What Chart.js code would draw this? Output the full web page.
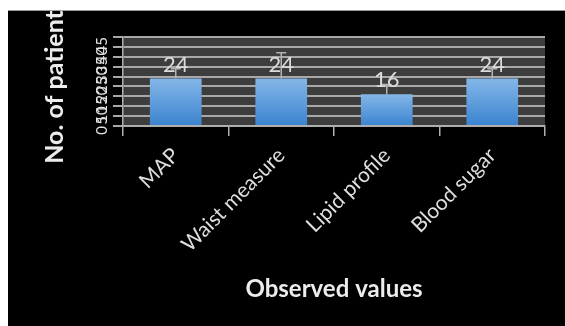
<!DOCTYPE html>
<html>
<head>
<meta charset="utf-8">
<title>Observed values</title>
<script src="https://cdn.jsdelivr.net/npm/chart.js@4.4.1/dist/chart.umd.min.js"></script>
<style>
  body { margin: 0; background: #fff; }
  #wrap { position: absolute; left: 8px; top: 10px; width: 557px; height: 315px; background: #000; border-top: 1px solid #9a9a9a; }
</style>
</head>
<body>
<div id="wrap"><canvas id="chart1" width="557" height="315"></canvas></div>
<script>
  // data
  var categories = ['MAP', 'Waist measurement', 'Lipid profile', 'Blood sugar'];
  var patients   = [24, 24, 16, 24];
  var errPlus    = [5, 13, 5, 5];

  var FONT = 'Lato, "Open Sans", sans-serif';

  // dark plot area behind the grid
  var plotBg = {
    id: 'plotBg',
    beforeDraw: function(chart){
      var a = chart.chartArea, ctx = chart.ctx;
      ctx.save();
      ctx.fillStyle = '#3d3d3d';
      ctx.fillRect(a.left, a.top, a.right - a.left, a.bottom - a.top);
      ctx.restore();
    }
  };

  // error whiskers + value labels above the bars
  var barExtras = {
    id: 'barExtras',
    afterDatasetsDraw: function(chart){
      var ctx = chart.ctx, y = chart.scales.y;
      var meta = chart.getDatasetMeta(0);
      ctx.save();
      meta.data.forEach(function(bar, i){
        var top = y.getPixelForValue(patients[i] + errPlus[i]);
        ctx.strokeStyle = '#b4b4b4';
        ctx.lineWidth = 1.5;
        ctx.beginPath();
        ctx.moveTo(bar.x, bar.y);
        ctx.lineTo(bar.x, top);
        ctx.moveTo(bar.x - 5, top);
        ctx.lineTo(bar.x + 5, top);
        ctx.stroke();

        ctx.fillStyle = '#dcdcdc';
        ctx.font = '22px ' + FONT;
        ctx.textAlign = 'center';
        ctx.textBaseline = 'bottom';
        ctx.fillText(String(patients[i]), bar.x, bar.y - 3);
      });
      ctx.restore();
    }
  };

  function barFill(c){
    var chart = c.chart;
    if(!chart.chartArea) return '#5b9bd5';
    var y = chart.scales.y;
    var g = chart.ctx.createLinearGradient(0, y.getPixelForValue(c.raw), 0, y.getPixelForValue(0));
    g.addColorStop(0, '#84b7e8');
    g.addColorStop(1, '#3a83cf');
    return g;
  }

  new Chart(document.getElementById('chart1').getContext('2d'), {
    type: 'bar',
    data: {
      labels: categories,
      datasets: [{
        label: 'No. of patients',
        data: patients,
        backgroundColor: barFill,
        borderWidth: 0,
        categoryPercentage: 1,
        barPercentage: 0.49
      }]
    },
    options: {
      responsive: false,
      animation: false,
      layout: { padding: { left: 28, top: 26, right: 20, bottom: 18 } },
      plugins: { legend: { display: false }, tooltip: { enabled: false } },
      scales: {
        x: {
          afterFit: function(s){ s.height = 182; },
          grid: { drawOnChartArea: false, color: '#b0b0b0', lineWidth: 1.5, tickLength: 10, offset: true },
          border: { color: '#b0b0b0', width: 1.5 },
          ticks: {
            autoSkip: false, minRotation: 45, maxRotation: 45, padding: 7,
            color: '#dedede', font: { family: FONT, size: 21 },
            callback: function(v, i){ return categories[i].slice(0, 13); }
          },
          title: { display: true, text: 'Observed values', color: '#ececec', font: { family: FONT, size: 24, weight: 'bold' } }
        },
        y: {
          min: 0, max: 45,
          afterFit: function(s){ s.width = 87; },
          grid: { color: '#a8a8a8', lineWidth: 2, tickLength: 10 },
          border: { color: '#b0b0b0', width: 1.5 },
          ticks: {
            stepSize: 5, autoSkip: false, minRotation: 90, maxRotation: 90, padding: 11,
            color: '#e0e0e0', font: { family: FONT, size: 15 }
          },
          title: { display: true, text: 'No. of patients', color: '#ececec', font: { family: FONT, size: 25, weight: 'bold' } }
        }
      }
    },
    plugins: [plotBg, barExtras]
  });
</script>
</body>
</html>
